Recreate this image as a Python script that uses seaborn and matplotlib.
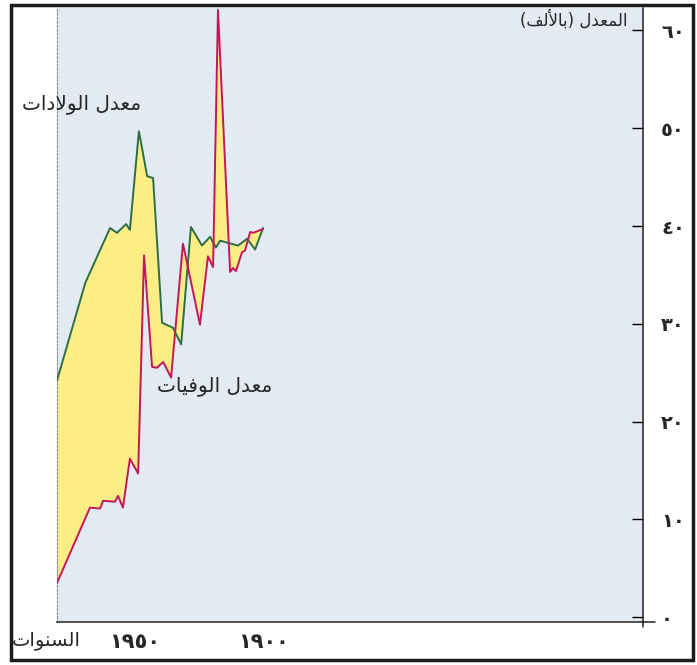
import numpy as np
import pandas as pd
import matplotlib
matplotlib.use("Agg")
import matplotlib.pyplot as plt
from matplotlib.patches import Rectangle
import seaborn as sns

# values (rate per thousand)
birth_year = [1980, 1969, 1959.4, 1956.7, 1953.2, 1951.7, 1948.2, 1945, 1942.7, 1939.2, 1935,
              1931.8, 1928, 1923.7, 1920.6, 1918.3, 1916.7, 1909.7, 1906.2, 1903.1, 1900]
birth_rate = [24.2, 34.2, 39.8, 39.3, 40.2, 39.6, 49.7, 45.1, 44.9, 30.1, 29.6,
              27.9, 39.9, 38.0, 38.9, 37.8, 38.5, 38.0, 38.7, 37.6, 39.8]

death_year = [1980, 1967.2, 1963.3, 1962.1, 1957.5, 1956.3, 1954.4, 1951.7, 1948.5, 1946.2,
              1943.1, 1941.2, 1938.8, 1935.7, 1931.1, 1924.5, 1921.4, 1919.4, 1917.5, 1912.8,
              1911.7, 1910.5, 1908.2, 1907, 1905, 1903.9, 1901.9, 1900]
death_rate = [3.5, 11.2, 11.1, 11.9, 11.8, 12.4, 11.2, 16.2, 14.7, 37.0,
              25.6, 25.5, 26.1, 24.5, 38.2, 29.9, 36.9, 35.8, 62.1, 35.3,
              35.7, 35.4, 37.3, 37.5, 39.4, 39.3, 39.5, 39.7]

year_ticks = [1980, 1970, 1960, 1950, 1940, 1930, 1920, 1910, 1900]
year_labels = ["", "", "", "١٩٥٠", "", "", "", "", "١٩٠٠"]
rate_ticks = [0, 10, 20, 30, 40, 50, 60]
rate_labels = ["٠", "١٠", "٢٠", "٣٠", "٤٠", "٥٠", "٦٠"]

# matplotlib has no Arabic shaping, so join the letters by hand
FORMS = {  # isolated, final, initial, medial
    "ا": (0xFE8D, 0xFE8E), "أ": (0xFE83, 0xFE84), "د": (0xFEA9, 0xFEAA), "و": (0xFEED, 0xFEEE),
    "ب": (0xFE8F, 0xFE90, 0xFE91, 0xFE92), "ت": (0xFE95, 0xFE96, 0xFE97, 0xFE98),
    "س": (0xFEB1, 0xFEB2, 0xFEB3, 0xFEB4), "ع": (0xFEC9, 0xFECA, 0xFECB, 0xFECC),
    "ف": (0xFED1, 0xFED2, 0xFED3, 0xFED4), "ل": (0xFEDD, 0xFEDE, 0xFEDF, 0xFEE0),
    "م": (0xFEE1, 0xFEE2, 0xFEE3, 0xFEE4), "ن": (0xFEE5, 0xFEE6, 0xFEE7, 0xFEE8),
    "ي": (0xFEF1, 0xFEF2, 0xFEF3, 0xFEF4),
    "لا": (0xFEFB, 0xFEFC), "لأ": (0xFEF7, 0xFEF8),
}


def shape(text):
    toks = []
    i = 0
    while i < len(text):
        if text[i:i + 2] in FORMS:
            toks.append(text[i:i + 2])
            i += 2
        else:
            toks.append(text[i])
            i += 1
    out = []
    for k, t in enumerate(toks):
        f = FORMS.get(t)
        if f is None:
            out.append({"(": ")", ")": "("}.get(t, t))
            continue
        prev = toks[k - 1] if k > 0 else None
        nxt = toks[k + 1] if k + 1 < len(toks) else None
        jp = prev in FORMS and len(FORMS[prev]) == 4
        jn = len(f) == 4 and nxt in FORMS
        out.append(chr(f[{(0, 0): 0, (1, 0): 1, (0, 1): 2, (1, 1): 3}[(jp, jn)]]))
    return "".join(reversed(out))


sns.set_style("white")
plt.rcParams["font.family"] = ["DejaVu Sans"]

W, H = 697, 665
fig = plt.figure(figsize=(W / 100, H / 100), dpi=100)
ax = fig.add_axes([57 / W, 1 - 622 / H, (643 - 57) / W, (622 - 8) / H])
ax.set_facecolor("#e4eaf1")

births = pd.DataFrame({"year": birth_year, "rate": birth_rate})
deaths = pd.DataFrame({"year": death_year, "rate": death_rate})

# yellow area between the two curves
ax.fill(np.r_[birth_year, death_year[::-1]], np.r_[birth_rate, death_rate[::-1]],
        color="#fcee84", lw=0, zorder=1)
sns.lineplot(data=births, x="year", y="rate", ax=ax, color="#2c6e45", lw=1.4,
             estimator=None, zorder=3)
sns.lineplot(data=deaths, x="year", y="rate", ax=ax, color="#c2185b", lw=1.4,
             estimator=None, zorder=3)

ax.set_xlim(1980, 1752.5)
ax.set_ylim(-0.5, 62.3)
ax.set_xlabel("")
ax.set_ylabel("")

ax.set_xticks(year_ticks)
ax.set_xticklabels(year_labels, fontsize=15, fontweight="bold")
ax.tick_params(axis="x", direction="out", length=6, width=1, pad=1, color="black")

ax.yaxis.tick_right()
ax.set_yticks(rate_ticks)
ax.set_yticklabels(rate_labels, fontsize=14, fontweight="bold")
ax.tick_params(axis="y", direction="in", length=8, width=1, pad=13, color="black")

ax.spines["top"].set_visible(False)
ax.spines["left"].set_color("#8a8f96")
ax.spines["left"].set_linestyle((0, (2, 1.5)))
ax.spines["left"].set_linewidth(0.8)
ax.spines["bottom"].set_color("#222222")
ax.spines["right"].set_color("#222222")
ax.spines["bottom"].set_linewidth(1.1)
ax.spines["right"].set_linewidth(1.1)
# axis lines run a little past the corner
ax.plot([1, 1.02], [0, 0], transform=ax.transAxes, color="#222222", lw=1.1, clip_on=False)
ax.plot([1, 1], [0, -0.008], transform=ax.transAxes, color="#222222", lw=1.1, clip_on=False)

fig.text(82 / W, 1 - 104 / H, shape("معدل الولادات"), ha="center", va="center", fontsize=14.5)
fig.text(215 / W, 1 - 386 / H, shape("معدل الوفيات"), ha="center", va="center", fontsize=14.5)
fig.text(628 / W, 1 - 20 / H, shape("المعدل (بالألف)"), ha="right", va="center", fontsize=12)
fig.text(46 / W, 1 - 640 / H, shape("السنوات"), ha="center", va="center", fontsize=14)

fig.patches.append(Rectangle((11 / W, 5 / H), (693 - 11) / W, (660 - 5) / H, transform=fig.transFigure,
                             fill=False, ec="#1c1c1c", lw=2.5))

fig.savefig("out.png", dpi=100)
